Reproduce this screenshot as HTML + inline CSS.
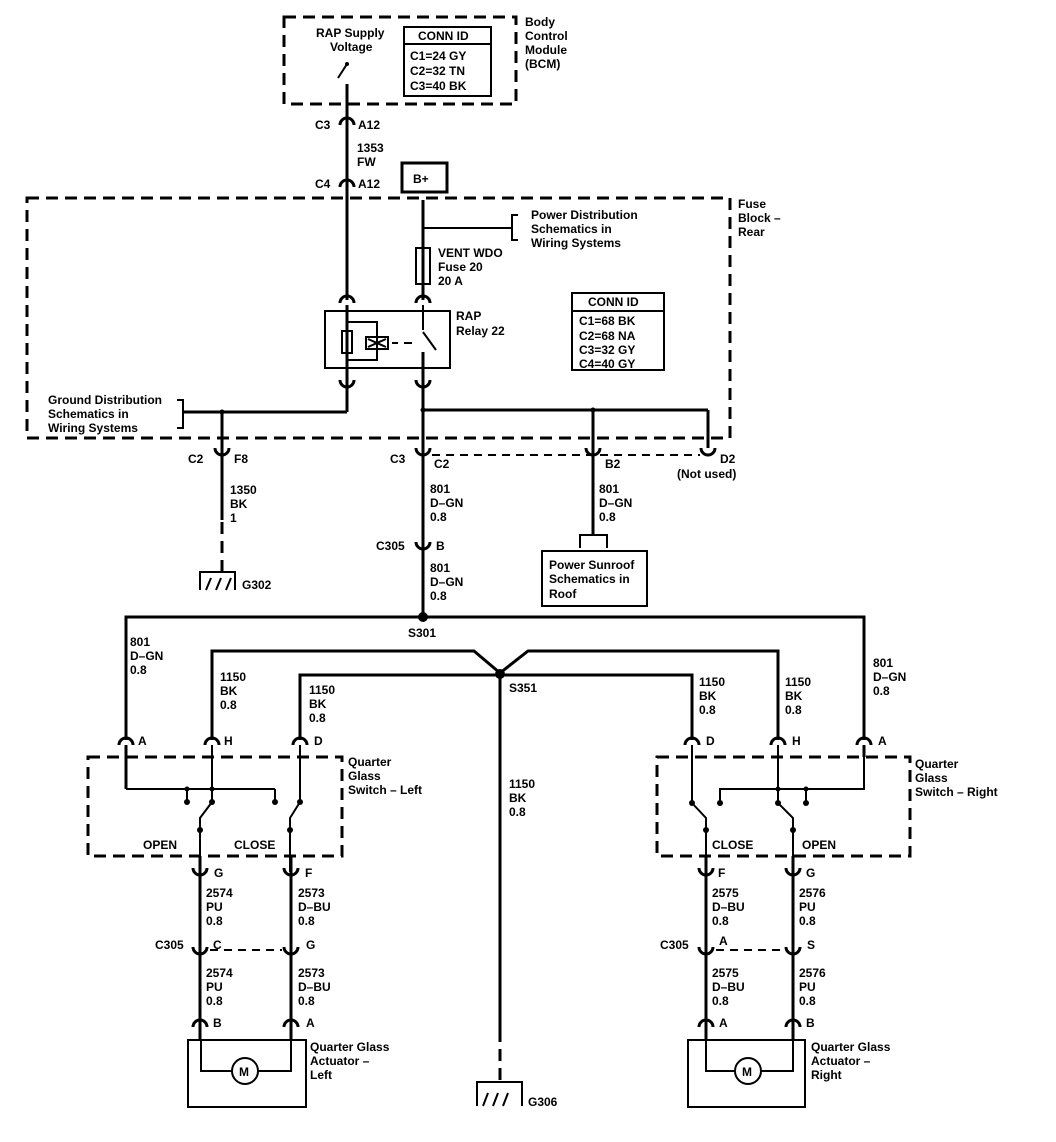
<!DOCTYPE html>
<html><head><meta charset="utf-8"><style>
html,body{margin:0;padding:0;background:#fff}
svg{display:block}
text{font-family:"Liberation Sans",Arial,sans-serif;font-size:12px;font-weight:bold;fill:#000}
.w{stroke:#000;stroke-width:3;fill:none}
.t{stroke:#000;stroke-width:2;fill:none}
.d{stroke:#000;stroke-width:3;fill:none;stroke-dasharray:12 7}
.dd{stroke:#000;stroke-width:2;fill:none;stroke-dasharray:8 6}
.c{stroke:#000;stroke-width:3;fill:none}
</style></head><body>
<svg width="1056" height="1142" viewBox="0 0 1056 1142" xmlns="http://www.w3.org/2000/svg">
<!-- BCM -->
<rect x="284" y="17" width="232" height="87" class="d"/>
<text x="525" y="26">Body</text><text x="525" y="40">Control</text><text x="525" y="54">Module</text><text x="525" y="68">(BCM)</text>
<text x="316" y="37">RAP Supply</text><text x="330" y="51">Voltage</text>
<rect x="404" y="27" width="87" height="69" class="t"/>
<line x1="404" y1="44" x2="491" y2="44" class="t"/>
<text x="418" y="40">CONN ID</text><text x="410" y="60">C1=24 GY</text><text x="410" y="75">C2=32 TN</text><text x="410" y="90">C3=40 BK</text>
<circle cx="347" cy="64" r="2"/>
<line x1="347" y1="64" x2="338" y2="78" class="t"/>
<line x1="347" y1="84" x2="347" y2="104" class="w"/>
<!-- C3/A12 -->
<line x1="347" y1="104" x2="347" y2="300" class="w"/>
<path d="M340,125 A7,7 0 0 1 354,125" class="c"/>
<text x="315" y="129">C3</text><text x="358" y="129">A12</text>
<text x="357" y="152">1353</text><text x="357" y="166">FW</text>
<path d="M340,187 A7,7 0 0 1 354,187" class="c"/>
<text x="315" y="188">C4</text><text x="358" y="188">A12</text>
<!-- B+ -->
<rect x="402" y="163" width="45" height="29" class="w"/>
<text x="413" y="183">B+</text>
<line x1="423" y1="200" x2="423" y2="300" class="w"/>
<!-- fuse block -->
<rect x="27" y="198" width="703" height="240" class="d"/>
<text x="738" y="208">Fuse</text><text x="738" y="222">Block –</text><text x="738" y="236">Rear</text>
<line x1="423" y1="228" x2="512" y2="228" class="t"/>
<path d="M518,215 H512 V240 H518" class="t"/>
<text x="531" y="219">Power Distribution</text><text x="531" y="233">Schematics in</text><text x="531" y="247">Wiring Systems</text>
<rect x="416" y="248" width="14" height="36" fill="#fff" class="t"/>
<text x="438" y="257">VENT WDO</text><text x="438" y="271">Fuse 20</text><text x="438" y="285">20 A</text>
<path d="M340,303 A7,7 0 0 1 354,303" class="c"/>
<path d="M416,303 A7,7 0 0 1 430,303" class="c"/>
<rect x="325" y="311" width="125" height="57" class="t"/>
<text x="456" y="320">RAP</text><text x="456" y="335">Relay 22</text>
<line x1="347" y1="305" x2="347" y2="412" class="w"/>
<rect x="342" y="331" width="10" height="22" fill="#fff" class="t"/>
<path d="M347,322 H377 V360 H347" class="t"/>
<rect x="366" y="337" width="22" height="12" fill="#fff" class="t"/>
<path d="M368,339 L386,347 M368,347 L386,339" class="t"/>
<line x1="392" y1="343" x2="398" y2="343" class="t"/>
<line x1="404" y1="343" x2="412" y2="343" class="t"/>
<line x1="423" y1="305" x2="423" y2="330" class="t"/>
<line x1="423" y1="332" x2="436" y2="350" class="t"/>
<line x1="423" y1="352" x2="423" y2="460" class="w"/>
<path d="M340,380 A7,7 0 0 0 354,380" class="c"/>
<path d="M416,380 A7,7 0 0 0 430,380" class="c"/>
<line x1="183" y1="412" x2="347" y2="412" class="w"/>
<path d="M177,400 H183 V428 H177" class="t"/>
<text x="48" y="404">Ground Distribution</text><text x="48" y="418">Schematics in</text><text x="48" y="432">Wiring Systems</text>
<circle cx="222" cy="412" r="2.5"/>
<line x1="222" y1="412" x2="222" y2="520" class="w"/>
<line x1="423" y1="410" x2="708" y2="410" class="w"/>
<circle cx="423" cy="410" r="2.5"/><circle cx="593" cy="410" r="2.5"/>
<line x1="593" y1="410" x2="593" y2="535" class="w"/>
<line x1="708" y1="410" x2="708" y2="448" class="w"/>
<!-- connectors y453 -->
<path d="M215,448 A7,7 0 0 0 229,448" class="c"/>
<text x="188" y="463">C2</text><text x="234" y="463">F8</text>
<path d="M416,448 A7,7 0 0 0 430,448" class="c"/>
<text x="390" y="463">C3</text><text x="434" y="468">C2</text>
<path d="M586,448 A7,7 0 0 0 600,448" class="c"/>
<text x="605" y="468">B2</text>
<path d="M701,448 A7,7 0 0 0 715,448" class="c"/>
<text x="720" y="463">D2</text><text x="677" y="478">(Not used)</text>
<line x1="432" y1="455" x2="700" y2="455" class="dd"/>
<text x="230" y="494">1350</text><text x="230" y="508">BK</text><text x="230" y="522">1</text>
<line x1="222" y1="522" x2="222" y2="572" class="d"/>
<path d="M200,590 V572 H235 V590" class="t"/>
<path d="M206,590 L211,578 M216,590 L221,578 M226,590 L231,578" class="t"/>
<text x="242" y="589">G302</text>
<text x="430" y="493">801</text><text x="430" y="507">D–GN</text><text x="430" y="521">0.8</text>
<line x1="423" y1="460" x2="423" y2="617" class="w"/>
<path d="M416,542 A7,7 0 0 0 430,542" class="c"/>
<text x="376" y="550">C305</text><text x="436" y="550">B</text>
<text x="430" y="572">801</text><text x="430" y="586">D–GN</text><text x="430" y="600">0.8</text>
<text x="599" y="493">801</text><text x="599" y="507">D–GN</text><text x="599" y="521">0.8</text>
<path d="M580,548 V535 H607 V548" class="t"/>
<rect x="542" y="551" width="105" height="55" class="t"/>
<text x="549" y="569">Power Sunroof</text><text x="549" y="583">Schematics in</text><text x="549" y="598">Roof</text>
<!-- S301 -->
<path d="M126,740 V617 H864 V740" class="w"/>
<circle cx="423" cy="617" r="5"/>
<text x="408" y="637">S301</text>
<text x="130" y="646">801</text><text x="130" y="660">D–GN</text><text x="130" y="674">0.8</text>
<text x="873" y="667">801</text><text x="873" y="681">D–GN</text><text x="873" y="695">0.8</text>
<!-- S351 -->
<path d="M212,740 V651 H474 L500,673 L528,651 H778 V740" class="w"/>
<path d="M300,740 V675 H692 V740" class="w"/>
<circle cx="500" cy="674" r="5"/>
<text x="509" y="692">S351</text>
<line x1="500" y1="674" x2="500" y2="1030" class="w"/>
<line x1="500" y1="1030" x2="500" y2="1082" class="d"/>
<text x="509" y="788">1150</text><text x="509" y="802">BK</text><text x="509" y="816">0.8</text>
<path d="M477,1106 V1082 H522 V1106" class="t"/>
<path d="M483,1106 L488,1093 M493,1106 L498,1093 M503,1106 L508,1093" class="t"/>
<text x="528" y="1106">G306</text>
<text x="220" y="681">1150</text><text x="220" y="695">BK</text><text x="220" y="709">0.8</text>
<text x="309" y="694">1150</text><text x="309" y="708">BK</text><text x="309" y="722">0.8</text>
<text x="699" y="686">1150</text><text x="699" y="700">BK</text><text x="699" y="714">0.8</text>
<text x="785" y="686">1150</text><text x="785" y="700">BK</text><text x="785" y="714">0.8</text>
<!-- left switch -->
<path d="M119,745 A7,7 0 0 1 133,745" class="c"/><text x="138" y="745">A</text>
<path d="M205,745 A7,7 0 0 1 219,745" class="c"/><text x="224" y="745">H</text>
<path d="M293,745 A7,7 0 0 1 307,745" class="c"/><text x="314" y="745">D</text>
<rect x="88" y="757" width="254" height="99" class="d"/>
<text x="348" y="766">Quarter</text><text x="348" y="780">Glass</text><text x="348" y="794">Switch – Left</text>
<line x1="126" y1="745" x2="126" y2="789" class="w"/>
<line x1="126" y1="789" x2="275" y2="789" class="t"/>
<path d="M187,789 V802 M275,789 V802" class="t"/>
<circle cx="187" cy="802" r="3"/><circle cx="275" cy="802" r="3"/><circle cx="212" cy="789" r="2.5"/><circle cx="187" cy="789" r="2.5"/>
<path d="M212,745 V802 L200,818 V872" class="t"/>
<path d="M300,745 V802 L290,818 V872" class="t"/>
<circle cx="212" cy="802" r="3"/><circle cx="300" cy="802" r="3"/><circle cx="200" cy="830" r="3"/><circle cx="290" cy="830" r="3"/>
<text x="143" y="849">OPEN</text><text x="234" y="849">CLOSE</text>
<path d="M193,868 A7,7 0 0 0 207,868" class="c"/><text x="214" y="877">G</text>
<path d="M284,868 A7,7 0 0 0 298,868" class="c"/><text x="305" y="877">F</text>
<line x1="200" y1="856" x2="200" y2="1040" class="w"/>
<line x1="291" y1="856" x2="291" y2="1040" class="w"/>
<text x="206" y="897">2574</text><text x="206" y="911">PU</text><text x="206" y="925">0.8</text>
<text x="298" y="897">2573</text><text x="298" y="911">D–BU</text><text x="298" y="925">0.8</text>
<path d="M193,947 A7,7 0 0 0 207,947" class="c"/><path d="M284,947 A7,7 0 0 0 298,947" class="c"/>
<text x="155" y="949">C305</text><text x="213" y="949">C</text><text x="306" y="949">G</text>
<line x1="210" y1="950" x2="282" y2="950" class="dd"/>
<text x="206" y="977">2574</text><text x="206" y="991">PU</text><text x="206" y="1005">0.8</text>
<text x="298" y="977">2573</text><text x="298" y="991">D–BU</text><text x="298" y="1005">0.8</text>
<path d="M193,1027 A7,7 0 0 1 207,1027" class="c"/><text x="213" y="1027">B</text>
<path d="M284,1027 A7,7 0 0 1 298,1027" class="c"/><text x="306" y="1027">A</text>
<rect x="188" y="1040" width="118" height="67" class="t"/>
<path d="M201,1040 V1071 H232 M258,1071 H291 V1040" class="t"/>
<circle cx="245" cy="1071" r="13" fill="#fff" class="t"/><text x="239" y="1076">M</text>
<text x="310" y="1051">Quarter Glass</text><text x="310" y="1065">Actuator –</text><text x="310" y="1079">Left</text>
<!-- right switch -->
<path d="M685,745 A7,7 0 0 1 699,745" class="c"/><text x="706" y="745">D</text>
<path d="M771,745 A7,7 0 0 1 785,745" class="c"/><text x="792" y="745">H</text>
<path d="M857,745 A7,7 0 0 1 871,745" class="c"/><text x="878" y="745">A</text>
<rect x="657" y="757" width="253" height="99" class="d"/>
<text x="915" y="768">Quarter</text><text x="915" y="782">Glass</text><text x="915" y="796">Switch – Right</text>
<path d="M864,745 V789 H720 V803" class="t"/><line x1="864" y1="745" x2="864" y2="757" class="w"/>
<path d="M806,789 V803" class="t"/>
<circle cx="720" cy="803" r="3"/><circle cx="806" cy="803" r="3"/><circle cx="778" cy="789" r="2.5"/><circle cx="806" cy="789" r="2.5"/>
<path d="M692,745 V803 L706,818 V872" class="t"/>
<path d="M778,745 V803 L793,818 V872" class="t"/>
<circle cx="692" cy="803" r="3"/><circle cx="778" cy="803" r="3"/><circle cx="706" cy="830" r="3"/><circle cx="793" cy="830" r="3"/>
<text x="712" y="849">CLOSE</text><text x="802" y="849">OPEN</text>
<path d="M699,868 A7,7 0 0 0 713,868" class="c"/><text x="718" y="877">F</text>
<path d="M786,868 A7,7 0 0 0 800,868" class="c"/><text x="806" y="877">G</text>
<line x1="706" y1="856" x2="706" y2="1040" class="w"/>
<line x1="793" y1="856" x2="793" y2="1040" class="w"/>
<text x="712" y="897">2575</text><text x="712" y="911">D–BU</text><text x="712" y="925">0.8</text>
<text x="799" y="897">2576</text><text x="799" y="911">PU</text><text x="799" y="925">0.8</text>
<path d="M699,947 A7,7 0 0 0 713,947" class="c"/><path d="M786,947 A7,7 0 0 0 800,947" class="c"/>
<text x="660" y="949">C305</text><text x="719" y="945">A</text><text x="807" y="949">S</text>
<line x1="716" y1="950" x2="784" y2="950" class="dd"/>
<text x="712" y="977">2575</text><text x="712" y="991">D–BU</text><text x="712" y="1005">0.8</text>
<text x="799" y="977">2576</text><text x="799" y="991">PU</text><text x="799" y="1005">0.8</text>
<path d="M699,1027 A7,7 0 0 1 713,1027" class="c"/><text x="719" y="1027">A</text>
<path d="M786,1027 A7,7 0 0 1 800,1027" class="c"/><text x="806" y="1027">B</text>
<rect x="688" y="1040" width="117" height="67" class="t"/>
<path d="M706,1040 V1071 H735 M761,1071 H793 V1040" class="t"/>
<circle cx="748" cy="1071" r="13" fill="#fff" class="t"/><text x="742" y="1076">M</text>
<text x="811" y="1051">Quarter Glass</text><text x="811" y="1065">Actuator –</text><text x="811" y="1079">Right</text>
<!-- fuse conn id -->
<rect x="572" y="293" width="92" height="77" class="t"/>
<line x1="572" y1="311" x2="664" y2="311" class="t"/>
<text x="588" y="306">CONN ID</text><text x="579" y="325">C1=68 BK</text><text x="579" y="340">C2=68 NA</text><text x="579" y="354">C3=32 GY</text><text x="579" y="368">C4=40 GY</text>
</svg>
</body></html>
